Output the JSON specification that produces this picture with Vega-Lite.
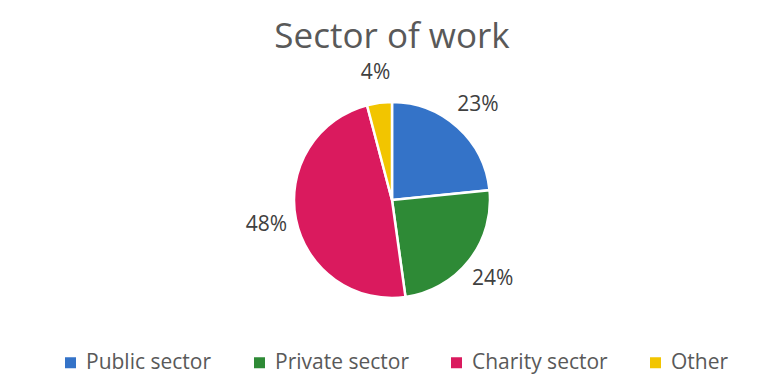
{
  "$schema": "https://vega.github.io/schema/vega-lite/v6.json",
  "width": 778,
  "height": 280,
  "autosize": {"type": "none"},
  "padding": {"left": 3, "right": 0, "top": 60, "bottom": 40},
  "background": "white",
  "title": {
    "text": "Sector of work",
    "font": "Open Sans",
    "fontSize": 35,
    "fontWeight": "normal",
    "color": "#595959",
    "anchor": "middle",
    "offset": 5
  },
  "data": {
    "values": [
      {"sector": "Public sector", "share": 0.234, "order": 1},
      {"sector": "Private sector", "share": 0.244, "order": 2},
      {"sector": "Charity sector", "share": 0.481, "order": 3},
      {"sector": "Other", "share": 0.041, "order": 4}
    ]
  },
  "encoding": {
    "theta": {"field": "share", "type": "quantitative", "stack": true},
    "order": {"field": "order", "type": "quantitative"},
    "color": {
      "field": "sector",
      "type": "nominal",
      "sort": ["Public sector", "Private sector", "Charity sector", "Other"],
      "scale": {
        "domain": ["Public sector", "Private sector", "Charity sector", "Other"],
        "range": ["#3473C8", "#2E8A36", "#DA1A5E", "#F2C500"]
      },
      "legend": {
        "title": null,
        "orient": "none",
        "legendX": 57,
        "legendY": 292,
        "direction": "horizontal",
        "columns": 4,
        "symbolType": "square",
        "symbolSize": 121,
        "symbolStrokeWidth": 0,
        "labelFont": "Open Sans",
        "labelFontSize": 21,
        "labelColor": "#595959",
        "labelOffset": 5,
        "columnPadding": 37,
        "labelLimit": 300
      }
    }
  },
  "layer": [
    {
      "mark": {"type": "arc", "outerRadius": 98, "stroke": "white", "strokeWidth": 2.5}
    },
    {
      "mark": {"type": "text", "radius": 128, "font": "Open Sans", "fontSize": 21, "color": "#404040"},
      "encoding": {
        "text": {"field": "share", "type": "quantitative", "format": ".0%"},
        "color": {"value": "#404040"}
      }
    }
  ],
  "config": {"view": {"stroke": null}}
}
